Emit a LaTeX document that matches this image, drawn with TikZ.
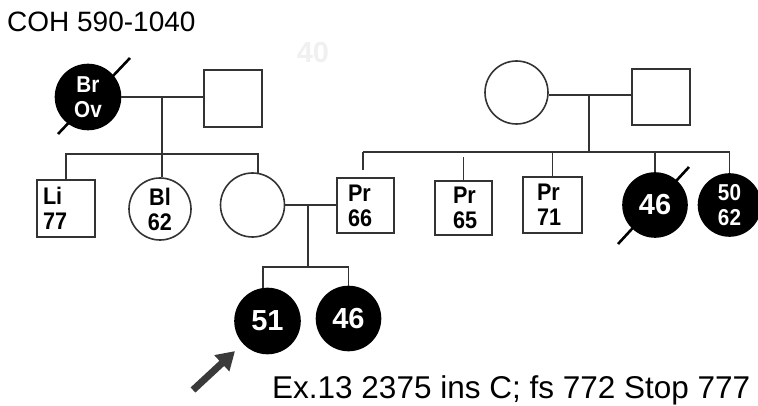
\documentclass[tikz,border=0pt]{standalone}
\usepackage{fontspec}
\setmainfont{Liberation Sans}
\newfontfamily\labfont[FakeStretch=0.9]{Liberation Sans}
\usetikzlibrary{arrows.meta,calc}
\definecolor{lc}{HTML}{333333}
\definecolor{arrc}{HTML}{3A3A3A}
\begin{document}
\begin{tikzpicture}[x=1pt,y=-1pt,
  ln/.style={draw=lc, line width=1.6pt},
  person/.style={inner sep=0pt, line width=1.6pt, draw=lc},
  male/.style={person, rectangle, minimum width=58pt, minimum height=57pt},
  female/.style={person, circle, minimum size=63pt},
  aff/.style={fill=black, draw=black, text=white},
  lab/.style={font=\labfont\bfseries\fontsize{24}{25}\selectfont, align=left},
  big/.style={font=\bfseries\fontsize{29}{30}\selectfont},
  slash/.style={draw=black, line width=2.6pt},
  arr/.style={draw=arrc, line width=7pt, -{Triangle[width=21pt,length=18pt]}}
]
\useasboundingbox (0,0) rectangle (758,406);

% deceased slashes (drawn first so the labels stay on top)
\draw[slash] (58,134) -- (130,58);
\draw[slash] (618,244) -- (689,167);

% title and faint mark
\node[anchor=base west, inner sep=0pt, font=\fontsize{28}{32}\selectfont] (title) at (7,32) {COH 590-1040};
\node[big, text=black!6] (faint) at (313,53) {40};

% grandparents left
\node[female, aff, minimum size=65pt, align=center, font=\labfont\bfseries\fontsize{23}{25}\selectfont] (gm1) at (88,97) {Br\\Ov};
\node[male, minimum height=57pt] (gf1) at (233,98.5) {};
% grandparents right
\node[female, minimum size=63pt] (gm2) at (516.5,92.5) {};
\node[male, minimum height=56pt] (gf2) at (661,97) {};

% generation II
\node[male, lab, text width=46pt] (li) at (66,208.5) {Li\\77};
\node[female, lab, align=center, minimum size=62pt] (bl) at (160,209) {Bl\\62};
\node[female, minimum size=64pt] (mo) at (252.5,205) {};
\node[male, lab, minimum width=57pt, minimum height=55pt, text width=35pt] (pr66) at (365.5,205.5) {Pr\\66};
\node[male, lab, minimum width=57pt, minimum height=54pt, text width=21pt] (pr65) at (463.5,208) {Pr\\65};
\node[male, lab, minimum width=59pt, minimum height=56pt, text width=31pt] (pr71) at (552.5,205) {Pr\\71};
\node[female, aff, big, minimum size=64pt] (s46) at (655,205) {46};
\node[female, aff, align=center, minimum size=62pt, font=\labfont\bfseries\fontsize{23}{25}\selectfont] (s50) at (729.5,205) {50\\62};

% generation III
\node[female, aff, big, minimum size=65pt] (c51) at (267.5,321) {51};
\node[female, aff, big, minimum size=64pt] (c46) at (348.5,318.5) {46};

% mutation text
\node[anchor=base west, inner sep=0pt, font=\fontsize{31.5}{38}\selectfont] (mut) at (272,398.5) {Ex.13 2375 ins C; fs 772 Stop 777};

% left family
\coordinate (m1) at (162,98);
\coordinate (s1) at (162,154);
\draw[ln] (gm1.east) -- (gm1.east -| gf1.west);
\draw[ln] (m1) -- (s1);
\draw[ln] (li.north) |- (s1) -| ($(mo.north)+(5.5,0.5)$);
\draw[ln] (s1) -- (s1 |- bl.north);

% right family
\coordinate (m2) at (589,95);
\coordinate (s2) at (589,152);
\coordinate (s2L) at (363,152);
\draw[ln] (gm2.east |- m2) -- (gf2.west |- m2);
\draw[ln] (m2) -- (s2);
\draw[ln] (s2L) -- (s2L -| s50.north);
\draw[ln, shorten >=7pt] (s2L) -- (s2L |- pr66.north);
\draw[ln, shorten <=5pt] (s2L -| pr65.north) -- (pr65.north);
\draw[ln] (s2L -| pr71.north) -- (pr71.north);
\draw[ln] (s2L -| s46.north) -- (s46.north);
\draw[ln] (s2L -| s50.north) -- (s50.north);

% parents of proband
\coordinate (m3) at (308,205);
\coordinate (s3) at (308,267);
\draw[ln] (mo.east) -- (mo.east -| pr66.west);
\draw[ln] (m3) -- (s3);
\draw[ln] ($(c51.north)+(-4.5,0.3)$) |- (s3) -| (c46.north);

% proband arrow
\coordinate (arrt) at (193,390);
\draw[arr, shorten >=11pt] (arrt) -- (c51);
\end{tikzpicture}
\end{document}
